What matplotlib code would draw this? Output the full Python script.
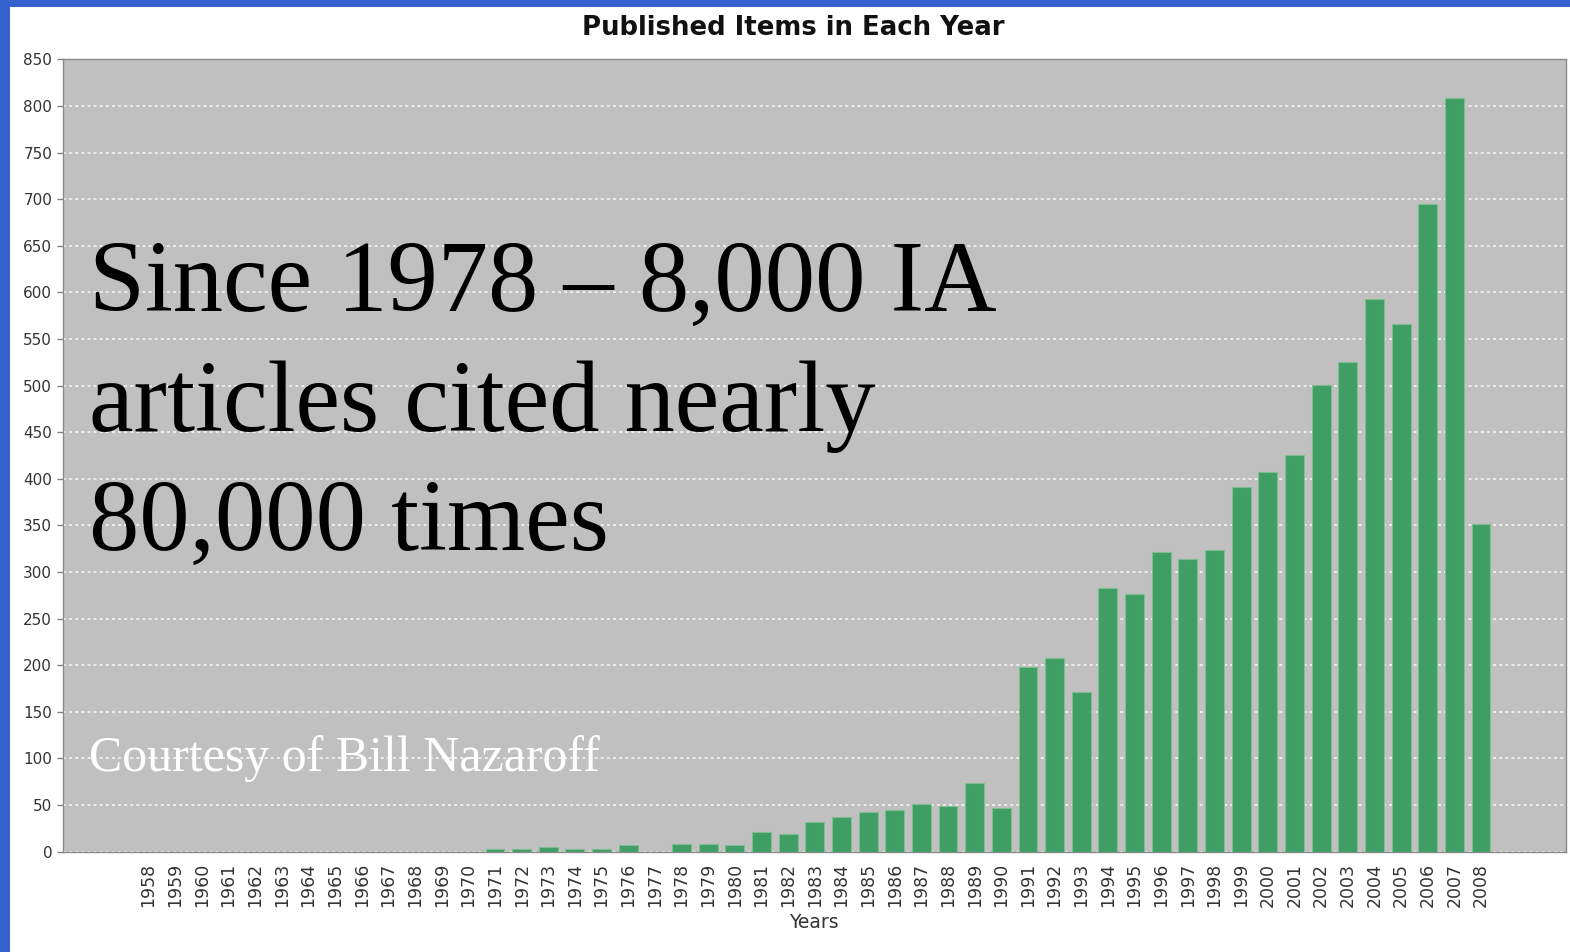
import matplotlib
matplotlib.use("Agg")
import matplotlib.pyplot as plt
from matplotlib.patches import Rectangle

# Publication counts per year
years = ["1958", "1959", "1960", "1961", "1962", "1963", "1964", "1965", "1966",
         "1967", "1968", "1969", "1970", "1971", "1972", "1973", "1974", "1975",
         "1976", "1977", "1978", "1979", "1980", "1981", "1982", "1983", "1984",
         "1985", "1986", "1987", "1988", "1989", "1990", "1991", "1992", "1993",
         "1994", "1995", "1996", "1997", "1998", "1999", "2000", "2001", "2002",
         "2003", "2004", "2005", "2006", "2007", "2008"]
items = [0, 0, 0, 0, 0, 0, 0, 0, 0, 0, 0, 0, 0,
         3, 3, 5, 3, 3, 7, 0, 8, 8, 7,
         21, 19, 32, 37, 43, 45, 51, 49, 74, 47,
         198, 208, 171, 283, 276, 321, 314, 324, 391, 407,
         426, 501, 525, 593, 566, 695, 808, 351]
y_ticks = list(range(0, 851, 50))

W, H = 1570, 952
fig = plt.figure(figsize=(W / 100, H / 100), dpi=100, facecolor="white")

# Slide frame in blue along the top and left edges
fig.patches.append(Rectangle((0, 1 - 7 / H), 1, 7 / H, transform=fig.transFigure,
                             facecolor="#3562cc", edgecolor="none", zorder=0))
fig.patches.append(Rectangle((0, 0), 10 / W, 1, transform=fig.transFigure,
                             facecolor="#3562cc", edgecolor="none", zorder=0))

left, right = 63.3 / W, 1566 / W
top, bottom = 1 - 59.3 / H, 1 - 851.7 / H
ax = fig.add_axes([left, bottom, right - left, top - bottom])
ax.set_facecolor("#c0c0c0")

x = list(range(len(years)))
ax.bar(x, items, width=0.71, color="#3f9e64", edgecolor="#7dbf90",
       linewidth=0.8, zorder=3)

ax.set_xlim(-3.2, 53.19)
ax.set_ylim(0, 850)
ax.set_yticks(y_ticks)
ax.set_yticklabels([str(v) for v in y_ticks], fontfamily="DejaVu Sans",
                   fontsize=11, color="#333333")
ax.set_xticks(x)
ax.set_xticklabels(years, rotation=90, fontsize=12.5, color="#333333",
                   fontfamily="DejaVu Sans")
ax.tick_params(axis="y", length=4, width=1, color="#808080", pad=4)
ax.tick_params(axis="x", length=0, pad=8)

ax.yaxis.grid(True, color="white", linestyle=(0, (2, 2)), linewidth=1.1,
              alpha=0.9, zorder=1)
ax.set_axisbelow(True)
for s in ax.spines.values():
    s.set_color("#8a8a8a")
    s.set_linewidth(1)

fig.text(793 / W, 1 - 28 / H, "Published Items in Each Year",
         ha="center", va="center", fontsize=18.7, fontweight="bold",
         fontfamily="DejaVu Sans", color="#111111")
fig.text(814 / W, 1 - 922 / H, "Years", ha="center", va="center",
         fontsize=13.5, color="#333333", fontfamily="DejaVu Sans")

serif = ["Liberation Serif", "DejaVu Serif"]
for line, base in [("Since 1978 \u2013 8,000 IA", 311),
                   ("articles cited nearly", 431),
                   ("80,000 times", 550)]:
    fig.text(89 / W, 1 - base / H, line, ha="left", va="baseline",
             fontsize=72.4, fontfamily=serif, color="black", zorder=5)

fig.text(89 / W, 1 - 771 / H, "Courtesy of Bill Nazaroff", ha="left",
         va="baseline", fontsize=36, fontfamily=serif, color="white", zorder=5)

fig.savefig("out.png", dpi=100, facecolor="white")
